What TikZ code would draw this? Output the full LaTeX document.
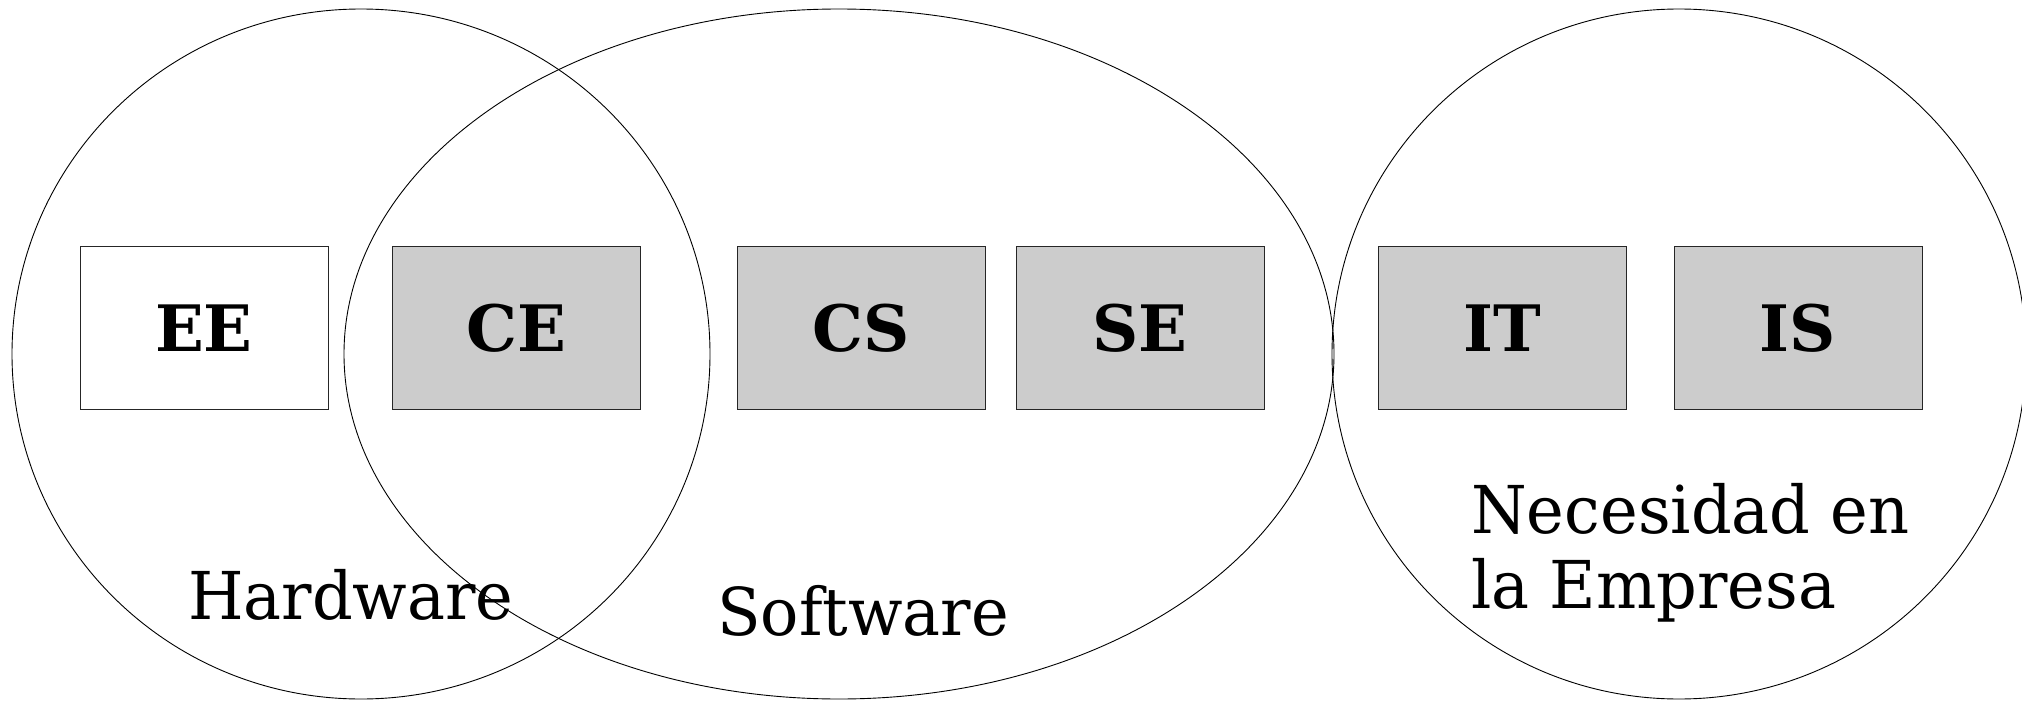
\documentclass[tikz,border=0pt]{standalone}
\usepackage{fontspec}
\setmainfont{DejaVu Serif}
\newcommand{\narrowtext}[1]{\scalebox{0.965}[1]{#1}}
\begin{document}
\begin{tikzpicture}[x=1pt,y=-1pt,
  area/.style={draw=black, line width=0.9pt},
  course/.style={draw=black!85, line width=1pt, fill=black!20, minimum width=248pt, minimum height=163pt, inner sep=0pt,
    font=\fontsize{64}{64}\selectfont\bfseries},
  plainbox/.style={course, fill=white},
  label/.style={anchor=base west, inner sep=0pt, font=\fontsize{66}{66}\selectfont}]
\useasboundingbox (0,0) rectangle (2022,701);
\clip (0,0) rectangle (2022,701);
\fill[white] (0,0) rectangle (2022,701);
\draw[area] (361,354) ellipse [x radius=349, y radius=345];
\draw[area] (839,354) ellipse [x radius=495, y radius=345];
\draw[area] (1679,354) ellipse [x radius=347, y radius=345];
\node[plainbox] (ee) at (204,328) {EE};
\node[course] (ce) at (516,328) {CE};
\node[course] (cs) at (861,328) {CS};
\node[course] (se) at (1140,328) {SE};
\node[course] (it) at (1502,328) {IT};
\node[course] (is) at (1798,328) {IS};
\node[label] (hw) at (188,619) {\narrowtext{Hardware}};
\node[label] (sw) at (717,635) {\narrowtext{Software}};
\node[label] (nec1) at (1471,533) {\narrowtext{Necesidad en}};
\node[label] (nec2) at (1471,608) {\narrowtext{la Empresa}};
\end{tikzpicture}
\end{document}
